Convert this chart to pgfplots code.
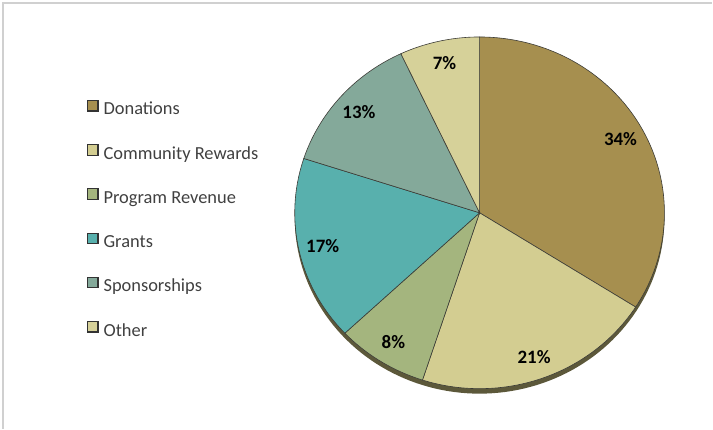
\documentclass[border=0pt]{standalone}
\usepackage{fontspec}
\setmainfont{Carlito}
\usepackage{pgfplots}
\pgfplotsset{compat=1.18}

\definecolor{cDon}{RGB}{166,143,79}
\definecolor{cCom}{RGB}{211,205,145}
\definecolor{cPro}{RGB}{164,181,126}
\definecolor{cGra}{RGB}{88,176,173}
\definecolor{cSpo}{RGB}{132,169,154}
\definecolor{cOth}{RGB}{214,209,153}
\definecolor{edge}{RGB}{60,60,55}
\definecolor{shadow}{RGB}{92,88,58}
\definecolor{frame}{RGB}{208,208,208}

% #1 share before this slice (%), #2 share (%), #3 colour, #4 name
\newcommand\slice[4]{%
  \addplot[fill=#3, draw=edge, line width=0.6bp, data cs=polar,
    domain={90-3.6*(#1+#2)}:{90-3.6*(#1)}, samples=90]
    ({x},{1}) -- (axis cs:0,0) -- cycle;
  \addlegendentry{#4}
  \pgfmathsetmacro\midang{90-3.6*(#1+#2/2)}
  \addplot[forget plot, data cs=polar, draw=none, mark=none,
    nodes near coords={\bfseries #2\%},
    every node near coord/.style={anchor=center, font=\fontsize{19}{22}\selectfont, text=black}]
    coordinates {(\midang,0.87)};
}

\begin{document}
\begin{tikzpicture}
\begin{axis}[
    x=185bp, y=176bp,
    xmin=-2.5946, xmax=1.2595,
    ymin=-1.2273, ymax=1.2102,
    enlargelimits=false,
    hide axis,
    clip=false,
    legend cell align=left,
    legend image code/.code={%
        \draw[#1, draw=black!80, line width=1.1bp] (0bp,-0.5bp) rectangle (10.5bp,10bp);},
    legend style={
        at={(axis cs:-2.125,0.643)}, anchor=north west,
        draw=none, fill=none, inner sep=0pt,
        font=\fontsize{18.5}{21}\selectfont, text=black!75,
        nodes={inner sep=0pt, text height=12bp, text depth=3bp},
        row sep=26.2bp,
        /tikz/every odd column/.append style={column sep=5bp},
    },
]
\path (rel axis cs:0,0) rectangle (rel axis cs:1,1);
\draw[frame, line width=1.2bp] (axis cs:-2.5784,-1.2273) -- (axis cs:-2.5784,1.1932) -- (axis cs:1.2595,1.1932);

% drop shadow under the pie
\addplot[forget plot, data cs=polar, domain=0:360, samples=181,
    fill=shadow, draw=none, yshift=-5bp] ({x},{1}) -- cycle;

\slice{0}{34}{cDon}{Donations}
\slice{34}{21}{cCom}{Community Rewards}
\slice{55}{8}{cPro}{Program Revenue}
\slice{63}{17}{cGra}{Grants}
\slice{80}{13}{cSpo}{Sponsorships}
\slice{93}{7}{cOth}{Other}
\end{axis}
\end{tikzpicture}
\end{document}
